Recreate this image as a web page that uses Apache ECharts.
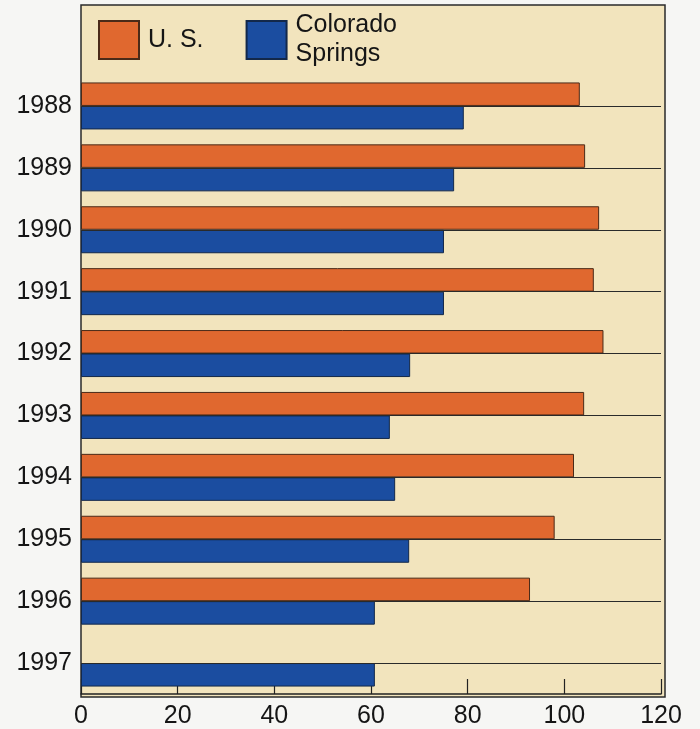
<!DOCTYPE html>
<html>
<head>
<meta charset="utf-8">
<script src="https://cdn.jsdelivr.net/npm/echarts@6/dist/echarts.min.js"></script>
<style>
html,body{margin:0;padding:0;background:#f6f6f4;}
#chart{width:700px;height:729px;}
</style>
</head>
<body>
<div id="chart"></div>
<script>
const years = ['1988','1989','1990','1991','1992','1993','1994','1995','1996','1997'];
const usValues = [103.2, 104.3, 107.2, 106.1, 108.1, 104.1, 102.0, 98.0, 92.9, null];
const csValues = [79.2, 77.2, 75.1, 75.1, 68.1, 63.9, 65.0, 67.9, 60.8, 60.8];
const seriesNames = ['U. S.', 'Colorado\nSprings'];
const xMin = 0, xMax = 120, xStep = 20;

const FONT = '"Liberation Sans", Arial, sans-serif';
const chart = echarts.init(document.getElementById('chart'), null, {renderer: 'canvas'});

const option = {
  backgroundColor: '#f6f6f4',
  animation: false,
  graphic: [{
    type: 'rect',
    z: -10,
    shape: {x: 81, y: 5, width: 584, height: 692},
    style: {fill: '#f2e4bd', stroke: '#2a2a2a', lineWidth: 1.5}
  }],
  legend: {
    left: 98, top: 11, padding: 0,
    itemWidth: 40, itemHeight: 38, itemGap: 42,
    icon: 'rect',
    data: seriesNames,
    textStyle: {fontFamily: FONT, fontSize: 25, lineHeight: 29, color: '#151515', padding: [0, 0, 0, 4]}
  },
  grid: {left: 81, right: 39, top: 75, bottom: 32, containLabel: false},
  xAxis: {
    type: 'value', min: xMin, max: xMax, interval: xStep,
    axisLine: {show: true, lineStyle: {color: '#222', width: 1.5}},
    axisTick: {show: true, inside: true, length: 15, lineStyle: {color: '#222', width: 1.2}},
    splitLine: {show: false},
    axisLabel: {fontFamily: FONT, fontSize: 25, color: '#151515', margin: 10}
  },
  yAxis: {
    type: 'category', data: years, inverse: true,
    axisLine: {show: false}, axisTick: {show: false}, splitLine: {show: false},
    axisLabel: {fontFamily: FONT, fontSize: 25, color: '#151515', margin: 9}
  },
  series: [
    {
      name: seriesNames[0], type: 'bar', data: usValues,
      barWidth: 23.5, barGap: '0%',
      itemStyle: {color: '#e0682f', borderColor: '#4a2a18', borderWidth: 1}
    },
    {
      name: seriesNames[1], type: 'bar', data: csValues,
      barWidth: 23.5, barGap: '0%',
      itemStyle: {color: '#1b4da0', borderColor: '#13284a', borderWidth: 1}
    },
    {
      name: 'rules', type: 'line', data: [], silent: true, z: 5,
      markLine: {
        silent: true, symbol: 'none', label: {show: false}, animation: false,
        lineStyle: {color: '#2a2a2a', width: 1.2, type: 'solid'},
        data: years.map(y => ({yAxis: y}))
      }
    }
  ]
};
chart.setOption(option);
</script>
</body>
</html>
